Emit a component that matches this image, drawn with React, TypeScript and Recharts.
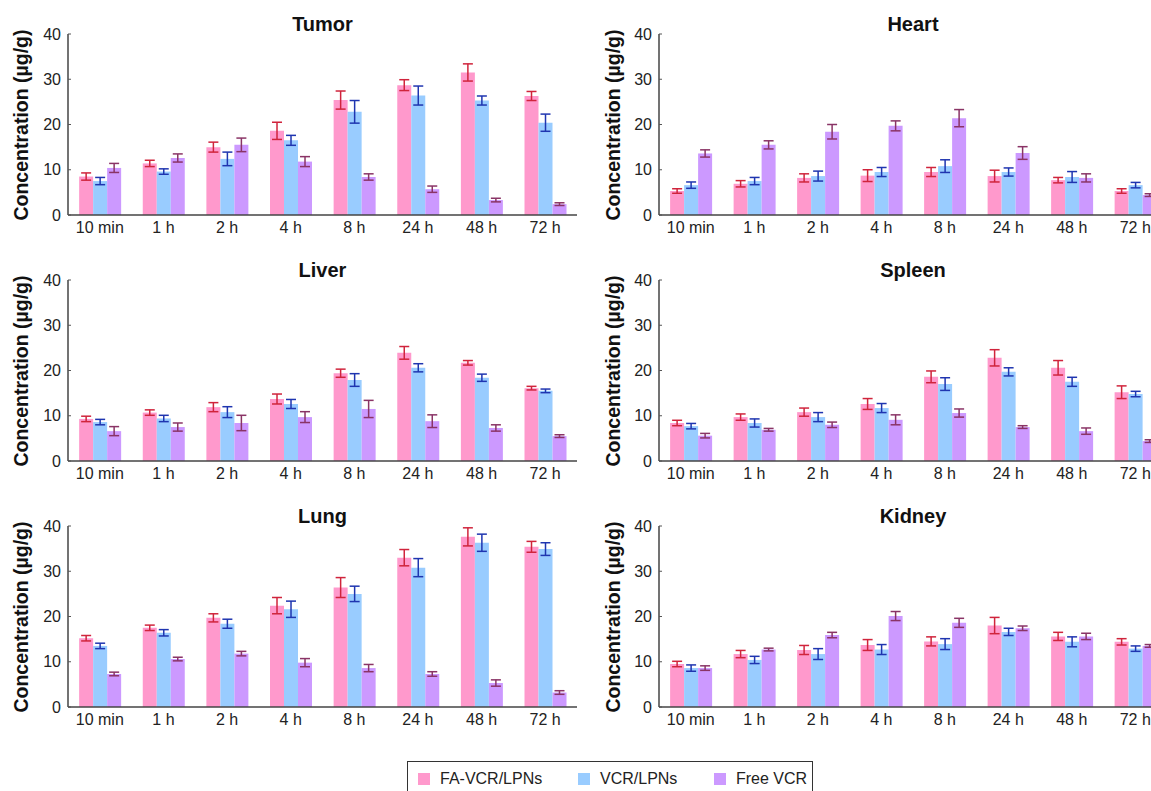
import React from 'react';
import { BarChart, Bar, XAxis, YAxis, ErrorBar } from 'recharts';

const timePoints = ['10 min', '1 h', '2 h', '4 h', '8 h', '24 h', '48 h', '72 h'];
const boundaryTicks = [1, 2, 3, 4, 5, 6, 7];
const yTicks = [0, 10, 20, 30, 40];
const seriesNames = ['FA-VCR/LPNs', 'VCR/LPNs', 'Free VCR'];
const seriesColors = ['#FF99CC', '#99CCFF', '#CC99FF'];
const errorColors = ['#D0243C', '#1F35B0', '#8A3466'];

const tumorFa = [8.5, 11.4, 15.0, 18.6, 25.4, 28.7, 31.5, 26.3];
const tumorVcr = [7.5, 9.6, 12.4, 16.5, 22.8, 26.4, 25.3, 20.4];
const tumorFree = [10.4, 12.6, 15.5, 11.8, 8.4, 5.7, 3.3, 2.4];
const tumorFaErr = [0.8, 0.7, 1.1, 1.9, 2.0, 1.2, 1.9, 1.0];
const tumorVcrErr = [0.8, 0.6, 1.5, 1.1, 2.5, 2.1, 1.0, 1.9];
const tumorFreeErr = [1.0, 0.9, 1.5, 1.1, 0.7, 0.7, 0.4, 0.3];

const heartFa = [5.3, 6.9, 8.2, 8.7, 9.5, 8.6, 7.7, 5.3];
const heartVcr = [6.6, 7.5, 8.6, 9.5, 10.8, 9.5, 8.4, 6.6];
const heartFree = [13.6, 15.5, 18.4, 19.7, 21.4, 13.7, 8.2, 4.4];
const heartFaErr = [0.5, 0.7, 0.9, 1.3, 1.0, 1.3, 0.6, 0.5];
const heartVcrErr = [0.7, 0.8, 1.1, 1.0, 1.4, 0.9, 1.2, 0.6];
const heartFreeErr = [0.8, 0.9, 1.6, 1.1, 1.9, 1.4, 0.9, 0.3];

const liverFa = [9.3, 10.7, 11.9, 13.7, 19.4, 23.9, 21.7, 16.1];
const liverVcr = [8.6, 9.4, 10.8, 12.6, 17.9, 20.6, 18.4, 15.5];
const liverFree = [6.6, 7.5, 8.4, 9.7, 11.5, 8.8, 7.3, 5.5];
const liverFaErr = [0.6, 0.6, 1.0, 1.1, 0.9, 1.4, 0.5, 0.4];
const liverVcrErr = [0.6, 0.7, 1.2, 1.0, 1.4, 0.9, 0.8, 0.4];
const liverFreeErr = [1.0, 0.9, 1.7, 1.2, 1.9, 1.4, 0.7, 0.3];

const spleenFa = [8.4, 9.7, 10.8, 12.6, 18.6, 22.8, 20.6, 15.2];
const spleenVcr = [7.7, 8.4, 9.7, 11.7, 17.0, 19.7, 17.5, 14.8];
const spleenFree = [5.6, 6.9, 8.0, 9.1, 10.6, 7.5, 6.6, 4.4];
const spleenFaErr = [0.6, 0.7, 0.9, 1.2, 1.3, 1.8, 1.6, 1.4];
const spleenVcrErr = [0.6, 0.9, 1.0, 1.0, 1.4, 0.9, 1.0, 0.6];
const spleenFreeErr = [0.5, 0.3, 0.6, 1.1, 0.9, 0.3, 0.7, 0.3];

const lungFa = [15.2, 17.5, 19.7, 22.4, 26.4, 33.0, 37.6, 35.4];
const lungVcr = [13.5, 16.4, 18.4, 21.6, 25.0, 30.8, 36.3, 34.9];
const lungFree = [7.3, 10.6, 11.8, 9.8, 8.6, 7.3, 5.3, 3.2];
const lungFaErr = [0.6, 0.6, 0.9, 1.8, 2.2, 1.8, 2.0, 1.2];
const lungVcrErr = [0.6, 0.7, 1.0, 1.8, 1.7, 2.0, 1.9, 1.4];
const lungFreeErr = [0.4, 0.4, 0.5, 0.9, 0.8, 0.5, 0.7, 0.4];

const kidneyFa = [9.5, 11.7, 12.6, 13.7, 14.5, 18.0, 15.6, 14.4];
const kidneyVcr = [8.6, 10.4, 11.7, 12.7, 13.9, 16.6, 14.4, 12.9];
const kidneyFree = [8.6, 12.7, 15.9, 20.1, 18.6, 17.4, 15.6, 13.5];
const kidneyFaErr = [0.6, 0.8, 1.0, 1.2, 1.0, 1.8, 0.9, 0.7];
const kidneyVcrErr = [0.7, 0.8, 1.2, 1.1, 1.2, 0.8, 1.1, 0.6];
const kidneyFreeErr = [0.5, 0.3, 0.6, 1.0, 1.0, 0.5, 0.7, 0.3];

const FONT = 'Arial, "Liberation Sans", Helvetica, sans-serif';

type PanelDef = {
  title: string;
  fa: number[]; vcr: number[]; free: number[];
  faErr: number[]; vcrErr: number[]; freeErr: number[];
};

const panels: PanelDef[] = [
  { title: 'Tumor', fa: tumorFa, vcr: tumorVcr, free: tumorFree, faErr: tumorFaErr, vcrErr: tumorVcrErr, freeErr: tumorFreeErr },
  { title: 'Heart', fa: heartFa, vcr: heartVcr, free: heartFree, faErr: heartFaErr, vcrErr: heartVcrErr, freeErr: heartFreeErr },
  { title: 'Liver', fa: liverFa, vcr: liverVcr, free: liverFree, faErr: liverFaErr, vcrErr: liverVcrErr, freeErr: liverFreeErr },
  { title: 'Spleen', fa: spleenFa, vcr: spleenVcr, free: spleenFree, faErr: spleenFaErr, vcrErr: spleenVcrErr, freeErr: spleenFreeErr },
  { title: 'Lung', fa: lungFa, vcr: lungVcr, free: lungFree, faErr: lungFaErr, vcrErr: lungVcrErr, freeErr: lungFreeErr },
  { title: 'Kidney', fa: kidneyFa, vcr: kidneyVcr, free: kidneyFree, faErr: kidneyFaErr, vcrErr: kidneyVcrErr, freeErr: kidneyFreeErr },
];

const ROW_H = 246;
const CHART_H = 246;
const PLOT_TOP = 34;
const PLOT_BOTTOM = 215;

function Panel({ def, index }: { def: PanelDef; index: number }) {
  const col = index % 2;
  const row = Math.floor(index / 2);
  const chartLeft = col === 0 ? 0 : 580;
  const chartW = col === 0 ? 580 : 590;
  const marginLeft = col === 0 ? 28 : 39;
  const yAxisW = 40;
  const plotLeft = chartLeft + marginLeft + yAxisW;
  const plotRight = chartLeft + chartW - 3;
  const top = row * ROW_H;
  const data = timePoints.map((t, i) => ({
    time: t,
    fa: def.fa[i], vcr: def.vcr[i], free: def.free[i],
    faErr: def.faErr[i], vcrErr: def.vcrErr[i], freeErr: def.freeErr[i],
  }));
  const keys = ['fa', 'vcr', 'free'];
  return (
    <>
      <div style={{ position: 'absolute', left: chartLeft, top, width: chartW, height: CHART_H }}>
        <BarChart
          width={chartW}
          height={CHART_H}
          data={data}
          margin={{ top: PLOT_TOP, right: 3, bottom: CHART_H - PLOT_BOTTOM - 30, left: marginLeft }}
          barCategoryGap="17.5%"
          barGap={0}
        >
          <XAxis
            xAxisId="bnd"
            type="number"
            domain={[0, 8]}
            ticks={boundaryTicks}
            allowDataOverflow
            height={0}
            mirror
            axisLine={false}
            tick={false}
            tickSize={3}
            tickLine={{ stroke: '#555', strokeWidth: 1.2 }}
          />
          <XAxis
            xAxisId="cat"
            dataKey="time"
            interval={0}
            height={30}
            tickLine={false}
            tickSize={4}
            tickMargin={3}
            axisLine={{ stroke: '#444', strokeWidth: 1.5 }}
            tick={{ fontSize: 16, fill: '#222', fontFamily: FONT }}
          />
          <YAxis
            width={yAxisW}
            domain={[0, 40]}
            ticks={yTicks}
            interval={0}
            tickSize={-3}
            tickMargin={10}
            axisLine={{ stroke: '#444', strokeWidth: 1.5 }}
            tickLine={{ stroke: '#555' }}
            tick={{ fontSize: 16, fill: '#222', fontFamily: FONT }}
          />
          {keys.map((k, si) => (
            <Bar key={k} xAxisId="cat" dataKey={k} name={seriesNames[si]} fill={seriesColors[si]} isAnimationActive={false}>
              <ErrorBar dataKey={k + 'Err'} width={5} stroke={errorColors[si]} strokeWidth={1.5} />
            </Bar>
          ))}
        </BarChart>
      </div>
      <div
        style={{
          position: 'absolute', left: (plotLeft + plotRight) / 2, top: top + 24,
          transform: 'translate(-50%, -50%)', fontFamily: FONT, fontWeight: 'bold',
          fontSize: 20, color: '#111', whiteSpace: 'nowrap', lineHeight: 1,
        }}
      >
        {def.title}
      </div>
      <div
        style={{
          position: 'absolute', left: col === 0 ? 22 : 614, top: top + (PLOT_TOP + PLOT_BOTTOM) / 2,
          transform: 'translate(-50%, -50%) rotate(-90deg)', fontFamily: FONT, fontWeight: 'bold',
          fontSize: 19.5, color: '#111', whiteSpace: 'nowrap', lineHeight: 1,
        }}
      >
        Concentration (µg/g)
      </div>
    </>
  );
}

function LegendBox() {
  const sq = [10, 170, 306];
  const tx = [32, 192, 328];
  return (
    <div style={{ position: 'absolute', left: 407, top: 761, width: 406, height: 40, border: '1px solid #333', boxSizing: 'border-box', fontFamily: FONT }}>
      {seriesNames.map((n, i) => (
        <React.Fragment key={n}>
          <div style={{ position: 'absolute', left: sq[i], top: 11, width: 12, height: 12, background: seriesColors[i] }} />
          <div style={{ position: 'absolute', left: tx[i], top: 17, transform: 'translateY(-50%)', fontSize: 16, color: '#222', whiteSpace: 'nowrap', lineHeight: 1 }}>
            {n}
          </div>
        </React.Fragment>
      ))}
    </div>
  );
}

export default function App() {
  return (
    <div style={{ position: 'absolute', left: 0, top: 0, width: 1151, height: 791, overflow: 'hidden', background: '#fff' }}>
      {panels.map((p, i) => (
        <Panel key={p.title} def={p} index={i} />
      ))}
      <LegendBox />
    </div>
  );
}
